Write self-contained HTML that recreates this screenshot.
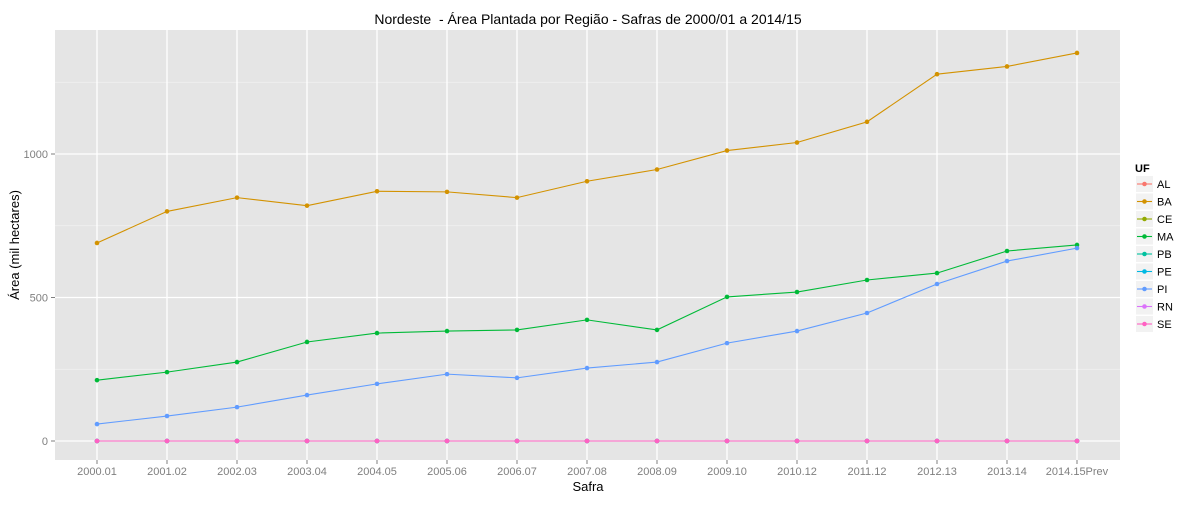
<!DOCTYPE html>
<html><head><meta charset="utf-8"><style>
body{margin:0;background:#fff;font-family:"Liberation Sans",sans-serif}
svg text{font-family:"Liberation Sans",sans-serif;white-space:pre}
</style></head><body>
<svg id="c" width="1200" height="500" xmlns="http://www.w3.org/2000/svg"></svg>
<script>
const categories=["2000.01","2001.02","2002.03","2003.04","2004.05","2005.06","2006.07","2007.08","2008.09","2009.10","2010.12","2011.12","2012.13","2013.14","2014.15Prev"];
const seriesNames=["AL","BA","CE","MA","PB","PE","PI","RN","SE"];
const colors=["#F8766D","#D39200","#93AA00","#00BA38","#00C19F","#00B9E3","#619CFF","#DB72FB","#FF61C3"];
const AL=[0,0,0,0,0,0,0,0,0,0,0,0,0,0,0];
const BA=[690,800,848,820,870,868,848,905,946,1012,1040,1112,1278,1305,1352];
const CE=[0,0,0,0,0,0,0,0,0,0,0,0,0,0,0];
const MA=[212,240,275,345,376,383,387,422,387,502,519,561,585,662,683];
const PB=[0,0,0,0,0,0,0,0,0,0,0,0,0,0,0];
const PE=[0,0,0,0,0,0,0,0,0,0,0,0,0,0,0];
const PI=[59,87,118,160,199,233,220,254,275,341,383,446,547,627,672];
const RN=[0,0,0,0,0,0,0,0,0,0,0,0,0,0,0];
const SE=[0,0,0,0,0,0,0,0,0,0,0,0,0,0,0];
const yTicks=[0,500,1000];
const yMinor=[250,750,1250];
const series=[AL,BA,CE,MA,PB,PE,PI,RN,SE];

const svg=document.getElementById('c');
const NS="http://www.w3.org/2000/svg";
function mk(t,a,p){const e=document.createElementNS(NS,t);for(const k in a)e.setAttribute(k,a[k]);(p||svg).appendChild(e);return e;}
const PL=55,PR=1120,PT=30,PB_=460;
const x=i=>97+i*70.0;
const y=v=>441-v*0.287;

const bg=mk('rect',{x:PL,y:PT,width:PR-PL,height:PB_-PT,fill:'#E5E5E5'});


yMinor.forEach(v=>{const l=mk('line',{x1:PL,x2:PR,y1:y(v),y2:y(v),stroke:'#F2F2F2','stroke-width':0.8});

});
yTicks.forEach(v=>{const l=mk('line',{x1:PL,x2:PR,y1:y(v),y2:y(v),stroke:'#fff','stroke-width':1.3});


const tk=mk('line',{x1:PL-4,x2:PL,y1:y(v),y2:y(v),stroke:'#7f7f7f'});


const t=mk('text',{x:PL-7,y:y(v)+4,'text-anchor':'end','font-size':11,fill:'#7f7f7f'});t.textContent=v;

});
categories.forEach((c,i)=>{const l=mk('line',{x1:x(i),x2:x(i),y1:PT,y2:PB_,stroke:'#fff','stroke-width':1.3});


const tk=mk('line',{x1:x(i),x2:x(i),y1:PB_,y2:PB_+4,stroke:'#7f7f7f'});


const t=mk('text',{x:x(i),y:PB_+15,'text-anchor':'middle','font-size':11,fill:'#7f7f7f'});t.textContent=c;

});
series.forEach((s,k)=>{
 const g=mk('g',{});
 
 
 const p=mk('polyline',{points:s.map((v,i)=>x(i)+','+y(v)).join(' '),fill:'none',stroke:colors[k],'stroke-width':1.1},g);
 
 
 s.forEach((v,i)=>{const c=mk('circle',{cx:x(i),cy:y(v),r:2.3,fill:colors[k]},g);
 
 });
});
const title=mk('text',{x:588,y:24,'text-anchor':'middle','font-size':14,fill:'#000'});title.textContent='Nordeste  - Área Plantada por Região - Safras de 2000/01 a 2014/15';


const xt=mk('text',{x:588,y:491,'text-anchor':'middle','font-size':13,fill:'#000'});xt.textContent='Safra';


const yt=mk('text',{x:0,y:0,'text-anchor':'middle','font-size':13,fill:'#000',transform:'translate(19,245) rotate(-90)'});yt.textContent='Área (mil hectares)';


const lt=mk('text',{x:1135,y:172,'font-size':11,'font-weight':'bold',fill:'#000'});lt.textContent='UF';


seriesNames.forEach((n,k)=>{const yy=184+k*17.5;
 const g=mk('g',{});
 
 
 mk('rect',{x:1136,y:yy-8,width:17,height:16,fill:'#F2F2F2'},g);
 mk('line',{x1:1137,x2:1152,y1:yy,y2:yy,stroke:colors[k],'stroke-width':1.1},g);
 mk('circle',{cx:1144.5,cy:yy,r:2.3,fill:colors[k]},g);
 const t=mk('text',{x:1157,y:yy+4,'font-size':11,fill:'#000'},g);t.textContent=n;});
</script>
</body></html>
